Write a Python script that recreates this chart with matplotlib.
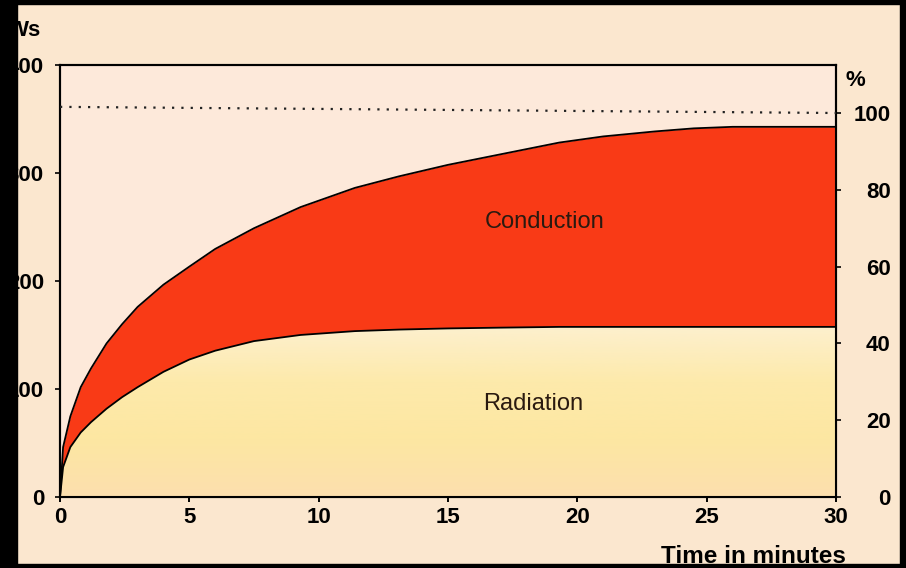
import numpy as np
import matplotlib
matplotlib.use("Agg")
import matplotlib.pyplot as plt
from matplotlib.patches import Rectangle
from matplotlib.colors import LinearSegmentedColormap

plt.rcParams['font.family'] = ['Liberation Sans', 'DejaVu Sans']

# data (time in minutes, share in %)
time_min = [0, 0.12, 0.4, 0.8, 1.2, 1.8, 2.4, 3.0, 4.0, 5.0, 6.0, 7.5, 9.3,
            11.4, 13.1, 15, 17, 19.3, 21, 23, 24.5, 26, 30]
total_pct = [0, 13, 21, 28.6, 33.5, 40, 45, 49.5, 55.3, 60, 64.6, 70, 75.5,
             80.5, 83.5, 86.5, 89.2, 92.3, 93.9, 95.2, 96, 96.4, 96.4]
radiation_pct = [0, 7.8, 13, 16.8, 19.5, 23, 26, 28.6, 32.6, 35.8, 38.1, 40.6, 42.2,
                 43.2, 43.6, 43.9, 44.1, 44.3, 44.3, 44.3, 44.3, 44.3, 44.3]
ref_time = [0, 30]
ref_pct = [101.6, 100]

x_ticks = [0, 5, 10, 15, 20, 25, 30]
ws_ticks = [0, 100, 200, 300, 400]
pct_ticks = [0, 20, 40, 60, 80, 100]

page = '#fbe7cf'
fig = plt.figure(figsize=(9.06, 5.68), dpi=100, facecolor=page)
ax = fig.add_axes([60 / 906, 71 / 568, 776 / 906, 432 / 568])
ax.set_facecolor('#fde9da')
ax2 = ax.twinx()

# conduction band (between radiation and total)
ax2.fill_between(time_min, radiation_pct, total_pct, color='#f93a16', lw=0, zorder=1)

# radiation area with a soft vertical gradient
rad_poly = ax2.fill_between(time_min, 0, radiation_pct, color='none', lw=0, zorder=1)
cmap = LinearSegmentedColormap.from_list('rad', ['#fcdfae', '#fde7a2', '#fdeaab', '#fdf0cf'])
grad = np.linspace(0, 1, 200).reshape(-1, 1)
im = ax2.imshow(grad, cmap=cmap, origin='lower', extent=[0, 30, 0, 45],
                aspect='auto', zorder=1)
im.set_clip_path(rad_poly.get_paths()[0], transform=ax2.transData)

ax2.plot(time_min, total_pct, color='black', lw=1.3, zorder=3)
ax2.plot(time_min, radiation_pct, color='black', lw=1.3, zorder=3)
ax2.plot(ref_time, ref_pct, color='#222222', lw=1.6, ls=(0, (1, 3.2)), zorder=3)

ax2.text(18.75, 71.5, 'Conduction', fontsize=17, ha='center', va='center', color='#2a1a10')
ax2.text(18.3, 24.2, 'Radiation', fontsize=17, ha='center', va='center', color='#2a1a10')

ax.set_xlim(0, 30)
ax.set_ylim(0, 400)
ax2.set_ylim(0, 112.5)
ax.set_xticks(x_ticks)
ax.set_yticks(ws_ticks)
ax2.set_yticks(pct_ticks)

tick_font = dict(fontsize=16, fontweight='bold')
ax.set_xticklabels([str(v) for v in x_ticks], **tick_font)
ax.set_yticklabels([str(v) for v in ws_ticks], **tick_font)
ax2.set_yticklabels([str(v) for v in pct_ticks], **tick_font)
for lab in ax2.get_yticklabels():
    lab.set_horizontalalignment('right')

ax.tick_params(axis='x', length=3.5, width=1.4, pad=4, direction='out')
ax.tick_params(axis='y', length=3.5, width=1.2, pad=8, direction='out')
ax2.tick_params(axis='y', length=3.5, width=1.2, pad=36, direction='out')

for a in (ax, ax2):
    for sp in a.spines.values():
        sp.set_linewidth(1.5)
        sp.set_color('black')

fig.text(855 / 906, 1 - 80 / 568, '%', fontsize=16, fontweight='bold', ha='center', va='center')
fig.text(41 / 906, 1 - 30 / 568, 'Ws', fontsize=16, fontweight='bold', ha='right', va='center')
fig.text(753 / 906, 5 / 568, 'Time in minutes', fontsize=17.5, fontweight='bold',
         ha='center', va='baseline')

# scanned-page black border
for rect in [(0, 0, 17 / 906, 1), (0, 1 - 4 / 568, 1, 4 / 568),
             (900 / 906, 0, 6 / 906, 1), (0, 0, 1, 4 / 568)]:
    fig.add_artist(Rectangle(rect[:2], rect[2], rect[3], transform=fig.transFigure,
                             color='black', zorder=10))

fig.savefig('out.png', dpi=100, facecolor=page)
